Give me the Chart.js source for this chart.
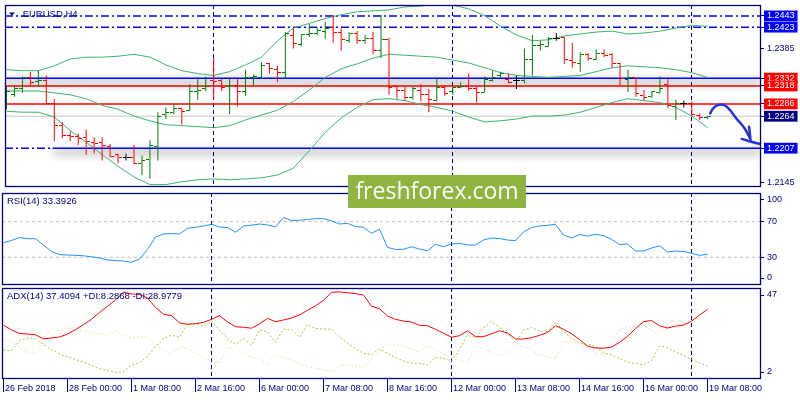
<!DOCTYPE html>
<html>
<head>
<meta charset="utf-8">
<script src="https://cdn.jsdelivr.net/npm/chart.js@4.4.1/dist/chart.umd.min.js"></script>
<style>
  html, body { margin: 0; padding: 0; background: #fff; }
  #wrap { position: relative; width: 800px; height: 400px; overflow: hidden; background: #fff; }
  #wrap canvas { position: absolute; left: 0; }
  #logo {
    position: absolute; left: 348px; top: 175px; width: 178px; height: 33px;
    background: #8db53f; color: #fff; font: 23px 'Open Sans', sans-serif;
    line-height: 31px; text-align: center; z-index: 5;
  }
</style>
</head>
<body>
<div id="wrap">
  <canvas id="priceChart" width="800" height="192" style="top:0"></canvas>
  <canvas id="rsiChart" width="800" height="94" style="top:192px"></canvas>
  <canvas id="adxChart" width="800" height="113" style="top:287px"></canvas>
  <div id="logo">freshforex.com</div>
</div>
<script>
// ---- data (H4 bars, index 0 = 26 Feb 16:00) --------------------------------
const opens = [1.22936,1.23022,1.23126,1.23332,1.23264,1.23281,1.22867,1.22471,1.22299,1.22281,
  1.22264,1.22178,1.22178,1.22092,1.21954,1.21902,1.21902,1.21799,1.21868,1.22092,
  1.22678,1.22712,1.22781,1.22747,1.23074,1.23126,1.23281,1.23281,1.23177,1.23194,
  1.23074,1.23332,1.23332,1.23574,1.23470,1.23418,1.24073,1.23918,1.24090,1.24125,
  1.24159,1.24228,1.24142,1.23987,1.24108,1.23987,1.24021,1.23815,1.24004,1.23177,
  1.23091,1.22971,1.23108,1.23022,1.22919,1.23160,1.23074,1.23160,1.23177,1.23126,
  1.23057,1.23281,1.23367,1.23298,1.23281,1.23281,1.23660,1.23901,1.23884,1.24021,
  1.24039,1.23642,1.23574,1.23746,1.23660,1.23763,1.23746,1.23574,1.23298,1.23332,
  1.23005,1.22988,1.23057,1.23212,1.22815,1.22867,1.22867,1.22660,1.22609];
const highs = [1.23160,1.23177,1.23350,1.23436,1.23453,1.23367,1.22953,1.22540,1.22367,1.22333,
  1.22402,1.22264,1.22264,1.22143,1.21971,1.21971,1.22126,1.21937,1.22212,1.22712,
  1.22798,1.22867,1.22798,1.23212,1.23298,1.23350,1.23677,1.23298,1.23332,1.23298,
  1.23470,1.23384,1.23608,1.23591,1.23539,1.24142,1.24211,1.24108,1.24280,1.24228,
  1.24332,1.24452,1.24211,1.24142,1.24159,1.24090,1.24142,1.24452,1.24039,1.23194,
  1.23160,1.23160,1.23212,1.23126,1.23332,1.23194,1.23160,1.23246,1.23401,1.23160,
  1.23350,1.23453,1.23436,1.23401,1.23367,1.23849,1.24090,1.23987,1.24056,1.24125,
  1.24056,1.23953,1.23780,1.23763,1.23832,1.23832,1.23763,1.23591,1.23470,1.23332,
  1.23108,1.23091,1.23350,1.23298,1.22936,1.22919,1.22902,1.22695,1.22643];
const lows = [1.22764,1.22988,1.23057,1.23177,1.23177,1.22850,1.22195,1.22247,1.22195,1.22126,
  1.21954,1.21971,1.21851,1.21902,1.21799,1.21851,1.21782,1.21592,1.21523,1.21851,
  1.22591,1.22678,1.22488,1.22729,1.22936,1.23091,1.22953,1.23091,1.22678,1.22815,
  1.23005,1.23194,1.23315,1.23401,1.23246,1.23315,1.23849,1.23884,1.24056,1.24090,
  1.24021,1.23953,1.23815,1.23953,1.23935,1.23935,1.23746,1.23677,1.23022,1.22953,
  1.22919,1.22936,1.22902,1.22712,1.22902,1.23005,1.23022,1.23143,1.23091,1.22884,
  1.23057,1.23264,1.23332,1.23229,1.23126,1.23229,1.23367,1.23815,1.23884,1.23987,
  1.23574,1.23505,1.23436,1.23625,1.23642,1.23694,1.23505,1.23194,1.23074,1.22988,
  1.22919,1.22971,1.23039,1.22781,1.22574,1.22798,1.22643,1.22574,1.22591];
const closes = [1.23074,1.23126,1.23332,1.23246,1.23281,1.22867,1.22471,1.22299,1.22281,1.22247,
  1.22195,1.22161,1.22109,1.21919,1.21902,1.21902,1.21799,1.21851,1.22109,1.22643,
  1.22712,1.22781,1.22729,1.23074,1.23108,1.23177,1.23264,1.23160,1.23194,1.23074,
  1.23332,1.23350,1.23539,1.23487,1.23418,1.24108,1.23935,1.24090,1.24125,1.24177,
  1.24211,1.24142,1.24004,1.24108,1.23987,1.24021,1.23815,1.24004,1.23160,1.23091,
  1.22971,1.23143,1.23022,1.22936,1.23160,1.23039,1.23160,1.23177,1.23126,1.23057,
  1.23298,1.23332,1.23401,1.23246,1.23281,1.23660,1.23901,1.23918,1.24021,1.24021,
  1.23660,1.23591,1.23746,1.23677,1.23763,1.23729,1.23574,1.23315,1.23332,1.23039,
  1.22971,1.23074,1.23143,1.22833,1.22867,1.22867,1.22678,1.22609,1.22643];

// Bollinger bands, one reading every second bar
const bbStep = 2;
const bbUpper = [1.23470,1.23453,1.23453,1.23539,1.23660,1.23694,1.23694,1.23711,1.23746,1.23694,
  1.23556,1.23453,1.23401,1.23367,1.23436,1.23556,1.23694,1.23987,1.24211,1.24297,
  1.24383,1.24452,1.24504,1.24521,1.24538,1.24590,1.24607,1.24642,1.24625,1.24556,
  1.24435,1.24246,1.24090,1.23987,1.24004,1.24073,1.24108,1.24142,1.24159,1.24108,
  1.24125,1.24159,1.24211,1.24263,1.24246];
const bbMiddle = [1.23091,1.23091,1.23091,1.23057,1.23022,1.22953,1.22833,1.22764,1.22643,1.22557,
  1.22488,1.22471,1.22454,1.22436,1.22471,1.22574,1.22660,1.22747,1.22902,1.23108,
  1.23332,1.23487,1.23574,1.23677,1.23746,1.23729,1.23711,1.23694,1.23642,1.23591,
  1.23505,1.23418,1.23367,1.23350,1.23332,1.23350,1.23367,1.23436,1.23505,1.23539,
  1.23522,1.23505,1.23470,1.23418,1.23332];
const bbLower = [1.22729,1.22712,1.22712,1.22626,1.22385,1.22178,1.21954,1.21747,1.21557,1.21420,
  1.21420,1.21471,1.21506,1.21523,1.21506,1.21523,1.21540,1.21592,1.21713,1.22023,
  1.22350,1.22609,1.22798,1.22936,1.22953,1.22919,1.22850,1.22798,1.22729,1.22626,
  1.22540,1.22557,1.22591,1.22643,1.22643,1.22660,1.22712,1.22798,1.22884,1.22953,
  1.22919,1.22884,1.22798,1.22643,1.22436];

const rsi = [46.5,48.9,52.2,50.9,50.9,43.8,36.5,33.1,32.6,32.2,
  31.7,30.6,29.2,27.0,26.4,25.8,24.4,28.1,38.8,52.8,
  56.2,56.7,56.2,62.6,63.7,65.2,67.1,64.0,63.5,58.1,
  65.2,66.1,67.4,66.3,64.0,74.9,71.3,71.6,72.5,73.4,
  73.4,71.0,67.4,68.2,64.6,63.7,57.0,61.5,41.2,38.8,
  39.0,41.8,39.3,37.4,44.6,41.9,44.9,45.7,43.8,43.8,
  49.4,51.7,51.1,49.4,48.7,58.4,63.5,65.2,65.9,67.1,
  55.1,51.7,55.6,53.9,55.8,54.3,50.2,44.4,44.9,37.1,
  37.1,40.4,43.0,36.0,37.1,36.7,34.5,32.2,33.39];

const adx = [29.24,26.88,24.98,24.72,24.31,22.26,22.67,23.18,24.72,27.04,
  29.50,32.33,35.77,38.95,42.19,46.30,45.27,45.11,43.21,38.39,
  34.89,34.17,30.48,29.71,30.01,30.68,32.27,34.12,30.94,28.47,
  28.17,27.70,29.96,32.74,31.04,31.91,32.94,34.48,36.90,39.21,
  41.98,46.14,46.35,45.88,45.47,44.75,39.00,37.72,33.97,32.27,
  31.35,30.89,29.19,28.99,27.14,25.13,23.08,23.85,26.37,23.34,
  23.34,24.83,26.37,25.24,22.16,22.16,22.77,24.06,25.49,28.99,
  27.19,24.88,21.90,18.46,17.58,17.43,18.00,20.46,23.54,27.50,
  31.04,31.66,28.94,27.81,28.73,29.29,31.30,34.43,37.41];
const plusDI = [16.51,16.25,21.13,22.67,22.41,19.33,16.76,14.45,13.01,11.63,
  10.34,8.60,6.90,5.98,4.95,5.21,8.80,9.93,13.42,18.30,
  22.41,24.11,23.08,29.86,30.17,28.58,31.40,26.52,22.41,19.43,
  22.41,19.07,26.78,25.75,20.46,27.29,27.04,23.03,29.60,27.55,
  27.29,27.29,23.18,19.95,17.12,14.71,14.19,17.02,14.71,12.65,
  10.86,9.68,9.68,8.80,12.65,12.24,10.86,17.02,24.11,22.82,
  27.96,31.14,28.32,24.72,20.46,26.78,28.06,26.26,26.01,31.04,
  26.01,22.41,20.10,19.33,18.56,15.22,13.94,11.99,10.34,9.57,
  8.90,11.06,18.56,17.79,15.48,13.68,11.63,9.83,8.29];
const minusDI = [22.46,20.51,18.05,15.48,14.45,22.16,27.45,26.26,27.96,27.70,
  26.01,25.08,24.88,24.26,26.52,24.21,22.77,23.49,22.67,19.33,
  16.61,13.94,18.56,17.33,15.22,12.40,11.11,9.83,17.43,18.05,
  14.71,12.81,11.88,9.06,14.30,12.55,11.37,9.83,7.93,7.26,
  6.49,5.21,8.44,8.80,8.29,7.41,11.88,15.99,19.59,19.48,
  18.46,16.97,15.48,18.66,17.17,14.45,12.29,11.06,10.34,18.30,
  17.38,14.97,13.68,15.48,18.77,18.41,16.25,14.19,13.01,11.88,
  20.61,20.77,19.59,17.23,15.22,13.94,20.10,27.04,28.22,28.52,
  28.88,26.68,24.98,27.55,29.86,29.81,31.81,32.68,31.50];

const timeLabels = ['26 Feb 2018','28 Feb 00:00','1 Mar 08:00','2 Mar 16:00','6 Mar 00:00','7 Mar 08:00',
  '8 Mar 16:00','12 Mar 00:00','13 Mar 08:00','14 Mar 16:00','16 Mar 00:00','19 Mar 08:00'];
const timeLabelBars = [0, 8, 16, 24, 32, 40, 48, 56, 64, 72, 80, 88];
const weekStartBars = [26, 56, 86];

const priceTicks = [1.2443, 1.2423, 1.2385, 1.2332, 1.2318, 1.2286, 1.2264, 1.2207, 1.2145];
const levelPrices = [1.2443, 1.2423, 1.2332, 1.2318, 1.2286, 1.2264, 1.2207];
const rsiTicks = [100, 70, 30, 0];
const rsiLevels = [70, 30];
const adxTicks = [47, 2];

// hand drawn forecast arrow (bar index, price)
const arrowPath = [[88.31,1.22690],[88.6,1.22764],[89.15,1.22833],[89.78,1.22850],[90.4,1.22810],
  [91.03,1.22707],[91.65,1.22591],[92.28,1.22488],[92.78,1.22390],[93.1,1.22304],[93.31,1.22247]];
const arrowHeadA = [[93.19,1.22454],[93.38,1.22212]];
const arrowHeadB = [[92.28,1.22235],[93.31,1.22190],[94.56,1.22143]];

// ---- look ------------------------------------------------------------------
const NAVY = '#000080', BLUE = '#0000ff', RED = '#ff0000', GREEN = '#008000';
const X_MIN = -0.1875, X_MAX = 94.6875;

Chart.defaults.font.family = "'Liberation Sans', Arial, sans-serif";
Chart.defaults.font.size = 9;
Chart.defaults.color = NAVY;

const DASHDOT = [8, 3, 2, 3];
const levelLook = [
  { color: BLUE, dash: DASHDOT, width: 1.5 },
  { color: BLUE, dash: DASHDOT, width: 1.5 },
  { color: BLUE, dash: [], width: 1.5, shadow: true },
  { color: RED, dash: [], width: 1.5 },
  { color: RED, dash: [], width: 1.5 },
  { color: '#c8c8c8', dash: [], width: 1 },
  { color: BLUE, dash: [], width: 1.5, shadow: true, dashUntil: 5.8 },
];
const tickBg = [BLUE, BLUE, null, RED, RED, RED, NAVY, BLUE, null];

function barColor(i) {
  if (closes[i] > opens[i]) return GREEN;
  if (closes[i] < opens[i]) return RED;
  return '#000000';
}

// little 7x1 images for the open (left) and close (right) ticks
const tickImgCache = {};
function tickImg(color, side) {
  const key = color + side;
  if (!tickImgCache[key]) {
    const c = document.createElement('canvas');
    c.width = 7; c.height = 1;
    const g = c.getContext('2d');
    g.fillStyle = color;
    g.fillRect(side === 'left' ? 0 : 4, 0, 3, 1);
    tickImgCache[key] = c;
  }
  return tickImgCache[key];
}

function hline(price, x0, x1, color, dash, width, shadow) {
  return {
    type: 'line', data: [{ x: x0, y: price }, { x: x1, y: price }],
    borderColor: color, borderWidth: width, borderDash: dash,
    pointRadius: 0, shadow: !!shadow, order: 10,
  };
}

function series(values, step) {
  return values.map((v, k) => ({ x: k * (step || 1), y: v }));
}

function pts(list) {
  return list.map(p => ({ x: p[0], y: p[1] }));
}

// frame, week separators, pane title, shadows
const panePlugin = {
  id: 'pane',
  beforeDatasetsDraw(chart) {
    const { ctx, chartArea: a, scales: { x } } = chart;
    ctx.save();
    ctx.strokeStyle = NAVY;
    ctx.lineWidth = 1;
    ctx.setLineDash([4, 3]);
    weekStartBars.forEach(b => {
      const px = Math.floor(x.getPixelForValue(b)) + 0.5;
      ctx.beginPath();
      ctx.moveTo(px, a.top);
      ctx.lineTo(px, a.bottom);
      ctx.stroke();
    });
    ctx.restore();
  },
  beforeDatasetDraw(chart, args) {
    const ds = chart.data.datasets[args.index];
    const ctx = chart.ctx;
    ctx.save();
    if (ds.shadow) {
      ctx.shadowColor = 'rgba(0,0,0,0.95)';
      ctx.shadowBlur = 8;
      ctx.shadowOffsetY = 4;
    }
    if (ds.crisp) ctx.imageSmoothingEnabled = false;
  },
  afterDatasetDraw(chart) {
    chart.ctx.restore();
  },
  afterDraw(chart, args, opts) {
    const { ctx, chartArea: a } = chart;
    ctx.save();
    ctx.strokeStyle = NAVY;
    ctx.lineWidth = 1.3;
    ctx.strokeRect(a.left + 0.5, a.top + 0.5, a.right - a.left - 1, a.bottom - a.top - 1);
    ctx.fillStyle = NAVY;
    ctx.textBaseline = 'middle';
    let tx = a.left + 5;
    if (opts.triangle) {
      ctx.beginPath();
      ctx.moveTo(a.left + 4, a.top + 7.5);
      ctx.lineTo(a.left + 10, a.top + 7.5);
      ctx.lineTo(a.left + 7, a.top + 10.5);
      ctx.closePath();
      ctx.fill();
      tx = a.left + 15;
    }
    ctx.font = (opts.size || 9) + "px 'Liberation Sans', Arial, sans-serif";
    ctx.fillText(opts.title || '', tx, a.top + (opts.titleY || 8));
    ctx.restore();
  }
};

function rightAxis(min, max, extra) {
  return Object.assign({
    position: 'right', min, max,
    afterFit(s) { s.width = 39; s.paddingTop = 0; s.paddingBottom = 0; },
    grid: { drawOnChartArea: false, drawTicks: true, tickLength: 3, color: NAVY },
    border: { display: false },
  }, extra);
}

function hiddenX() {
  return { type: 'linear', min: X_MIN, max: X_MAX, display: false, offset: false };
}

// values pulled in by a few pixels at the pane edges, as the terminal prints them
function edgeTicks(values, min, max, panePx) {
  const inset = 7 * (max - min) / panePx;
  return values.map(v => ({ value: Math.min(max - inset, Math.max(min + inset, v)) }));
}

const baseOptions = {
  responsive: false,
  animation: false,
  devicePixelRatio: 1,
  events: [],
  plugins: { legend: { display: false }, tooltip: { enabled: false } },
};

// ---- price pane ------------------------------------------------------------
const P_MIN = 1.21377, P_MAX = 1.24625;

const levelSets = [];
levelPrices.forEach((p, k) => {
  const look = levelLook[k];
  if (look.dashUntil != null) {
    levelSets.push(hline(p, X_MIN, look.dashUntil, look.color, DASHDOT, look.width, false));
    levelSets.push(hline(p, look.dashUntil, X_MAX, look.color, [], look.width, true));
  } else {
    levelSets.push(hline(p, X_MIN, X_MAX, look.color, look.dash, look.width, look.shadow));
  }
});

const bbStyle = { type: 'line', borderColor: '#3cb371', borderWidth: 1, pointRadius: 0, order: 5 };
const arrowStyle = { type: 'line', borderColor: '#2233dd', borderWidth: 2.5, pointRadius: 0,
  borderCapStyle: 'round', borderJoinStyle: 'round', order: 0 };

new Chart(document.getElementById('priceChart'), {
  type: 'line',
  data: {
    datasets: [
      ...levelSets,
      Object.assign({ data: series(bbUpper, bbStep) }, bbStyle),
      Object.assign({ data: series(bbMiddle, bbStep) }, bbStyle),
      Object.assign({ data: series(bbLower, bbStep) }, bbStyle),
      {
        type: 'bar',
        data: highs.map((h, i) => ({ x: i, y: [lows[i], h] })),
        backgroundColor: highs.map((h, i) => barColor(i)),
        barThickness: 1, inflateAmount: 0, borderWidth: 0, grouped: false, order: 2,
      },
      {
        type: 'scatter', data: series(opens), showLine: false, crisp: true, order: 1,
        pointRadius: 3, pointStyle: opens.map((o, i) => tickImg(barColor(i), 'left')),
      },
      {
        type: 'scatter', data: series(closes), showLine: false, crisp: true, order: 1,
        pointRadius: 3, pointStyle: closes.map((c, i) => tickImg(barColor(i), 'right')),
      },
      Object.assign({ data: pts(arrowPath), tension: 0.4, cubicInterpolationMode: 'monotone' }, arrowStyle),
      Object.assign({ data: pts(arrowHeadA) }, arrowStyle),
      Object.assign({ data: pts(arrowHeadB) }, arrowStyle),
    ]
  },
  options: Object.assign({}, baseOptions, {
    layout: { padding: { left: 2, top: 2, right: 0, bottom: 1.5 } },
    plugins: Object.assign({}, baseOptions.plugins, {
      pane: { title: '.EURUSD,H4', triangle: true, titleY: 9, size: 9.5 }
    }),
    scales: {
      x: hiddenX(),
      y: rightAxis(P_MIN, P_MAX, {
        afterBuildTicks(s) { s.ticks = priceTicks.map(v => ({ value: v })); },
        ticks: {
          autoSkip: false, padding: 3,
          callback: v => v.toFixed(4),
          color: c => tickBg[c.index] ? '#ffffff' : NAVY,
          showLabelBackdrop: c => !!tickBg[c.index],
          backdropColor: c => tickBg[c.index] || 'rgba(0,0,0,0)',
          backdropPadding: { left: 3, right: 3, top: 0, bottom: 0 },
        },
      }),
    },
  }),
  plugins: [panePlugin],
});

// ---- RSI pane --------------------------------------------------------------
const R_MIN = -1.12, R_MAX = 102.25;
new Chart(document.getElementById('rsiChart'), {
  type: 'line',
  data: {
    datasets: [
      ...rsiLevels.map(v => ({
        data: [{ x: X_MIN, y: v }, { x: X_MAX, y: v }], borderColor: '#c0c0c0',
        borderWidth: 1, borderDash: [3, 3], pointRadius: 0, order: 10,
      })),
      { data: series(rsi), borderColor: '#1e90ff', borderWidth: 1, pointRadius: 0, order: 1 },
    ]
  },
  options: Object.assign({}, baseOptions, {
    layout: { padding: { left: 2, top: 1, right: 0, bottom: 1 } },
    plugins: Object.assign({}, baseOptions.plugins, {
      pane: { title: 'RSI(14) 33.3926', titleY: 8.7, size: 9.5 }
    }),
    scales: {
      x: hiddenX(),
      y: rightAxis(R_MIN, R_MAX, {
        afterBuildTicks(s) { s.ticks = edgeTicks(rsiTicks, R_MIN, R_MAX, 92); },
        ticks: { autoSkip: false, padding: 3, callback: (v, i) => String(rsiTicks[i]) },
      }),
    },
  }),
  plugins: [panePlugin],
});

// ---- ADX pane --------------------------------------------------------------
const A_MIN = 1.61, A_MAX = 48.35;
new Chart(document.getElementById('adxChart'), {
  type: 'line',
  data: {
    datasets: [
      { data: series(minusDI), borderColor: '#f5deb3', borderWidth: 1, borderDash: [2, 2], pointRadius: 0, order: 3 },
      { data: series(plusDI), borderColor: '#9acd32', borderWidth: 1, borderDash: [2, 2], pointRadius: 0, order: 2 },
      { data: series(adx), borderColor: RED, borderWidth: 1, pointRadius: 0, order: 1 },
    ]
  },
  options: Object.assign({}, baseOptions, {
    layout: { padding: { left: 2, top: 1, right: 0, bottom: 0 } },
    plugins: Object.assign({}, baseOptions.plugins, {
      pane: { title: 'ADX(14) 37.4094 +DI:8.2868 -DI:28.9779', titleY: 8.7, size: 9.5 }
    }),
    scales: {
      x: {
        type: 'linear', min: X_MIN, max: X_MAX, offset: false, position: 'bottom',
        afterBuildTicks(s) { s.ticks = timeLabelBars.map(v => ({ value: v })); },
        afterFit(s) { s.height = 21; s.paddingLeft = 0; s.paddingRight = 0; },
        grid: { drawOnChartArea: false, drawTicks: true, tickLength: 13, color: NAVY },
        border: { display: false },
        ticks: {
          autoSkip: false, maxRotation: 0, minRotation: 0, align: 'start',
          padding: -9, labelOffset: 1.5,
          callback: (v, i) => timeLabels[i],
        },
      },
      y: rightAxis(A_MIN, A_MAX, {
        afterBuildTicks(s) { s.ticks = edgeTicks(adxTicks, A_MIN, A_MAX, 91); },
        ticks: { autoSkip: false, padding: 3, callback: (v, i) => String(adxTicks[i]) },
      }),
    },
  }),
  plugins: [panePlugin],
});
</script>
</body>
</html>
